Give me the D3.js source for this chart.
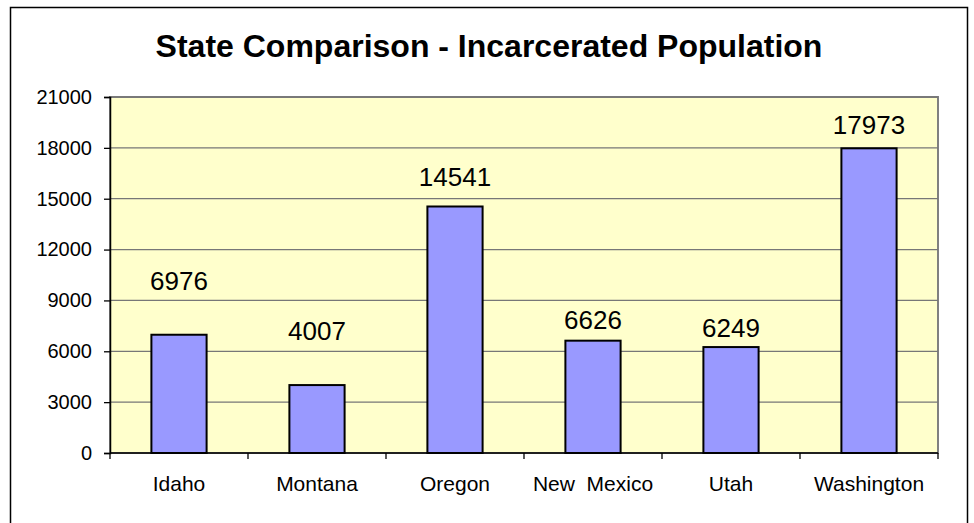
<!DOCTYPE html>
<html>
<head>
<meta charset="utf-8">
<script src="https://cdn.jsdelivr.net/npm/d3@7"></script>
<style>
  body { margin: 0; background: #fff; }
  text { font-family: "Liberation Sans", Arial, sans-serif; white-space: pre; }
</style>
</head>
<body>
<div id="vis"></div>
<script>
// data
var states = ["Idaho", "Montana", "Oregon", "New  Mexico", "Utah", "Washington"];
var population = [6976, 4007, 14541, 6626, 6249, 17973];
var yTicks = [0, 3000, 6000, 9000, 12000, 15000, 18000, 21000];

// labels were dragged by hand in the original, gap above bar top (px)
var labelGap = [45, 45, 20, 12, 10, 14];

var W = 974, H = 523;
var plot = {left: 110, top: 97, right: 938, bottom: 453};

var svg = d3.select("#vis").append("svg")
  .attr("width", W)
  .attr("height", H);

// chart area border
svg.append("rect")
  .attr("x", 10.5).attr("y", 7.5)
  .attr("width", 957).attr("height", 530)
  .attr("fill", "#fff")
  .attr("stroke", "#000")
  .attr("stroke-width", 1.5);

svg.append("text")
  .attr("x", 489).attr("y", 57)
  .attr("text-anchor", "middle")
  .attr("font-size", 32)
  .attr("font-weight", "bold")
  .text("State Comparison - Incarcerated Population");

var x = d3.scaleBand()
  .domain(states)
  .range([plot.left, plot.right])
  .paddingInner(0.6)
  .paddingOuter(0.3);

var xCat = d3.scaleBand()
  .domain(states)
  .range([plot.left, plot.right]);

var y = d3.scaleLinear()
  .domain([0, 21000])
  .range([plot.bottom, plot.top]);

// plot area
svg.append("rect")
  .attr("x", plot.left).attr("y", plot.top)
  .attr("width", plot.right - plot.left)
  .attr("height", plot.bottom - plot.top)
  .attr("fill", "#ffffcc")
  .attr("stroke", "#808080")
  .attr("stroke-width", 2);

// gridlines
svg.selectAll(".grid")
  .data(yTicks.filter(function(d){ return d > 0; }))
  .enter().append("line")
  .attr("class", "grid")
  .attr("x1", plot.left).attr("x2", plot.right)
  .attr("y1", function(d){ return y(d); })
  .attr("y2", function(d){ return y(d); })
  .attr("stroke", "#777")
  .attr("stroke-width", 1.3);

// bars
svg.selectAll(".bar")
  .data(population)
  .enter().append("rect")
  .attr("class", "bar")
  .attr("x", function(d, i){ return x(states[i]); })
  .attr("y", function(d){ return y(d); })
  .attr("width", x.bandwidth())
  .attr("height", function(d){ return y(0) - y(d); })
  .attr("fill", "#9999ff")
  .attr("stroke", "#000")
  .attr("stroke-width", 2);

// value labels
svg.selectAll(".val")
  .data(population)
  .enter().append("text")
  .attr("class", "val")
  .attr("x", function(d, i){ return x(states[i]) + x.bandwidth() / 2; })
  .attr("y", function(d, i){ return y(d) - labelGap[i]; })
  .attr("text-anchor", "middle")
  .attr("font-size", 26)
  .text(function(d){ return d; });

// y axis
var yAxis = d3.axisLeft(y)
  .tickValues(yTicks)
  .tickSize(6)
  .tickPadding(12)
  .tickFormat(d3.format("d"));

var gy = svg.append("g")
  .attr("transform", "translate(" + plot.left + ",0)")
  .call(yAxis);
gy.select(".domain").attr("stroke", "#000").attr("stroke-width", 1.5);
gy.selectAll(".tick line").attr("stroke", "#000").attr("stroke-width", 1.3);
gy.selectAll("text")
  .attr("font-size", 20)
  .attr("font-family", "Liberation Sans, Arial, sans-serif")
  .attr("fill", "#000");

// x axis, ticks between categories
var gx = svg.append("g")
  .attr("transform", "translate(0," + plot.bottom + ")");
gx.append("line")
  .attr("x1", plot.left).attr("x2", plot.right)
  .attr("stroke", "#000").attr("stroke-width", 1.5);
gx.selectAll(".xt")
  .data(states.concat([null]))
  .enter().append("line")
  .attr("class", "xt")
  .attr("x1", function(d, i){ return plot.left + i * xCat.step(); })
  .attr("x2", function(d, i){ return plot.left + i * xCat.step(); })
  .attr("y1", 0).attr("y2", 6)
  .attr("stroke", "#000").attr("stroke-width", 1.3);
gx.selectAll(".xl")
  .data(states)
  .enter().append("text")
  .attr("class", "xl")
  .attr("x", function(d){ return xCat(d) + xCat.bandwidth() / 2; })
  .attr("y", 38)
  .attr("text-anchor", "middle")
  .attr("font-size", 21)
  .text(function(d){ return d; });
</script>
</body>
</html>
